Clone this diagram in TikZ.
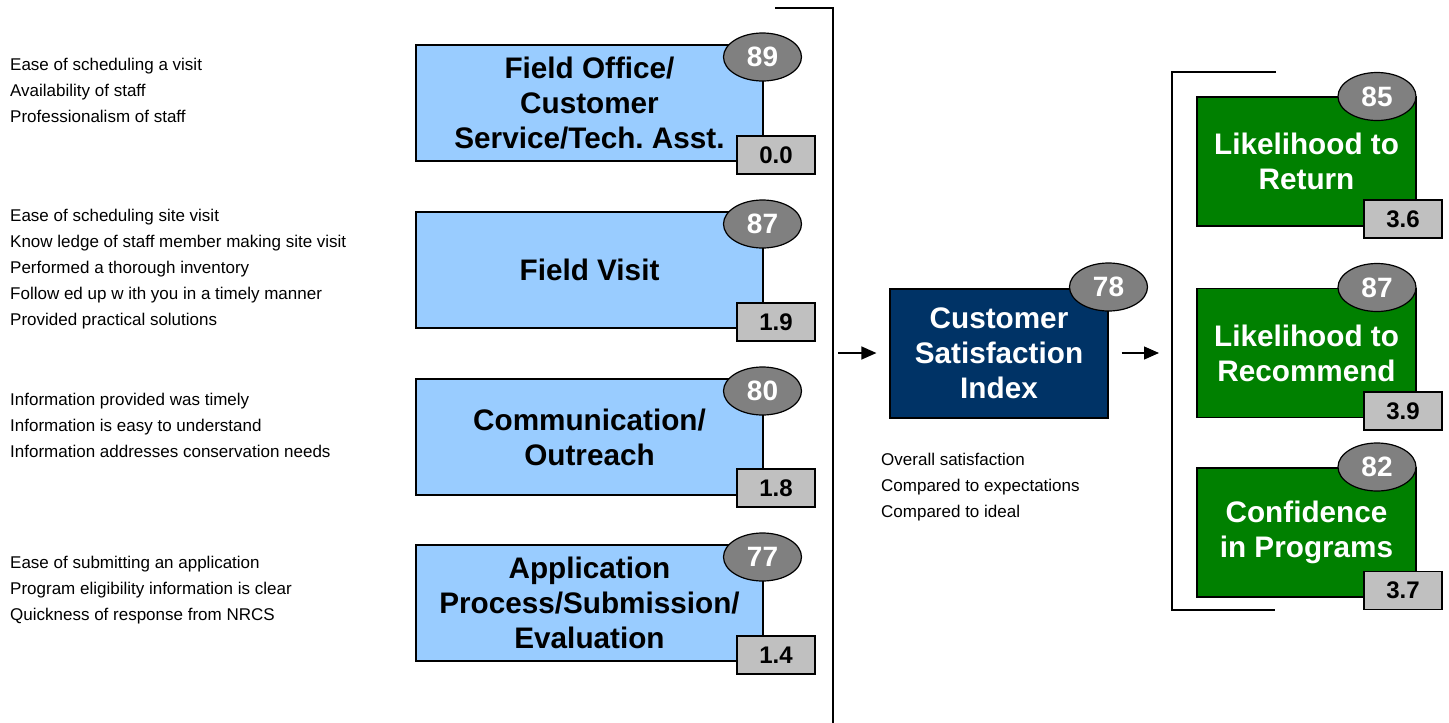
\documentclass[tikz,border=0pt]{standalone}
\usepackage{fontspec}
\setmainfont{Liberation Sans}
\usetikzlibrary{arrows.meta,shapes.geometric}
\definecolor{boxblue}{HTML}{99CCFF}
\definecolor{navy}{HTML}{003366}
\definecolor{dgreen}{HTML}{008000}
\definecolor{ellgrey}{HTML}{808080}
\definecolor{lgrey}{HTML}{C0C0C0}
\frenchspacing
\begin{document}
\begin{tikzpicture}[x=1pt,y=-1pt,
  driver/.style={draw=black, line width=1.2pt, fill=boxblue, minimum width=347pt, minimum height=116pt, inner sep=0pt, align=center, font=\fontsize{29.7}{35}\selectfont\bfseries},
  csibox/.style={draw=black, line width=1.2pt, fill=navy, text=white, minimum width=218pt, minimum height=129pt, inner sep=0pt, align=center, font=\fontsize{29.7}{35}\selectfont\bfseries},
  outbox/.style={draw=black, line width=1.2pt, fill=dgreen, text=white, minimum width=219pt, minimum height=129pt, inner sep=0pt, align=center, font=\fontsize{29.7}{35}\selectfont\bfseries},
  score/.style={ellipse, draw=black, line width=1.2pt, fill=ellgrey, text=white, minimum width=78pt, minimum height=48pt, inner sep=0pt, font=\fontsize{28}{30}\selectfont\bfseries},
  impact/.style={draw=black, line width=1.2pt, fill=lgrey, minimum width=78pt, minimum height=38pt, inner sep=0pt, font=\fontsize{24}{26}\selectfont\bfseries},
  attr/.style={anchor=west, inner sep=0pt, align=left, font=\fontsize{17}{26}\selectfont},
  bracket/.style={draw=black, line width=1.2pt},
  flow/.style={line width=1.2pt, -{Triangle[length=15pt,width=13pt]}}
]
\useasboundingbox (0,0) rectangle (1449,723);

% left attribute lists
\node[attr] (t1) at (10,90) {Ease of scheduling a visit\\Availability of staff\\Professionalism of staff};
\node[attr] (t2) at (10,269) {Ease of scheduling site visit\\Know ledge of staff member making site visit\\Performed a thorough inventory\\Follow ed up w ith you in a timely manner\\Provided practical solutions};
\node[attr] (t3) at (10,425) {Information provided was timely\\Information is easy to understand\\Information addresses conservation needs};
\node[attr] (t4) at (10,590) {Ease of submitting an application\\Program eligibility information is clear\\Quickness of response from NRCS};

% driver boxes
\node[driver] (d1) at (589.5,103) {Field Office/\\Customer\\Service/Tech. Asst.};
\node[score] (s1) at (762.5,57) {89};
\node[impact] (i1) at (776,155) {0.0};

\node[driver] (d2) at (589.5,270) {Field Visit};
\node[score] (s2) at (762.5,224) {87};
\node[impact] (i2) at (776,322) {1.9};

\node[driver] (d3) at (589.5,437) {Communication/\\Outreach};
\node[score] (s3) at (762.5,391) {80};
\node[impact] (i3) at (776,488) {1.8};

\node[driver] (d4) at (589.5,603) {Application\\Process/Submission/\\Evaluation};
\node[score] (s4) at (762.5,557) {77};
\node[impact] (i4) at (776,655) {1.4};

% left bracket
\coordinate (lbA) at (775,8);
\coordinate (lbB) at (833,8);
\coordinate (lbC) at (833,723);
\draw[bracket] (lbA) -- (lbB) -- (lbC);

% CSI
\node[csibox] (csi) at (999,353.5) {Customer\\Satisfaction\\Index};
\node[score] (s5) at (1108.5,287) {78};
\node[attr] (t5) at (881,487) {Overall satisfaction\\Compared to expectations\\Compared to ideal};

% right bracket
\coordinate (rbA) at (1276,72);
\coordinate (rbB) at (1172,72);
\coordinate (rbC) at (1172,610);
\coordinate (rbD) at (1275,610);
\draw[bracket] (rbA) -- (rbB) -- (rbC) -- (rbD);

% arrows
\coordinate (la) at (833,353);
\coordinate (ra) at (1172,353);
\draw[flow, shorten <=5pt, shorten >=13pt] (la) -- (csi.west |- la);
\draw[flow, shorten <=13pt, shorten >=13pt] (csi.east |- ra) -- (ra);

% outcomes
\node[outbox] (o1) at (1306.5,161.5) {Likelihood to\\Return};
\node[score] (s6) at (1377,96.5) {85};
\node[impact] (i6) at (1403,219) {3.6};

\node[outbox] (o2) at (1306.5,353) {Likelihood to\\Recommend};
\node[score] (s7) at (1377,287.5) {87};
\node[impact] (i7) at (1403,411) {3.9};

\node[outbox] (o3) at (1306.5,532.5) {Confidence\\in Programs};
\node[score] (s8) at (1377,467) {82};
\node[impact] (i8) at (1403,590.5) {3.7};
\end{tikzpicture}
\end{document}
